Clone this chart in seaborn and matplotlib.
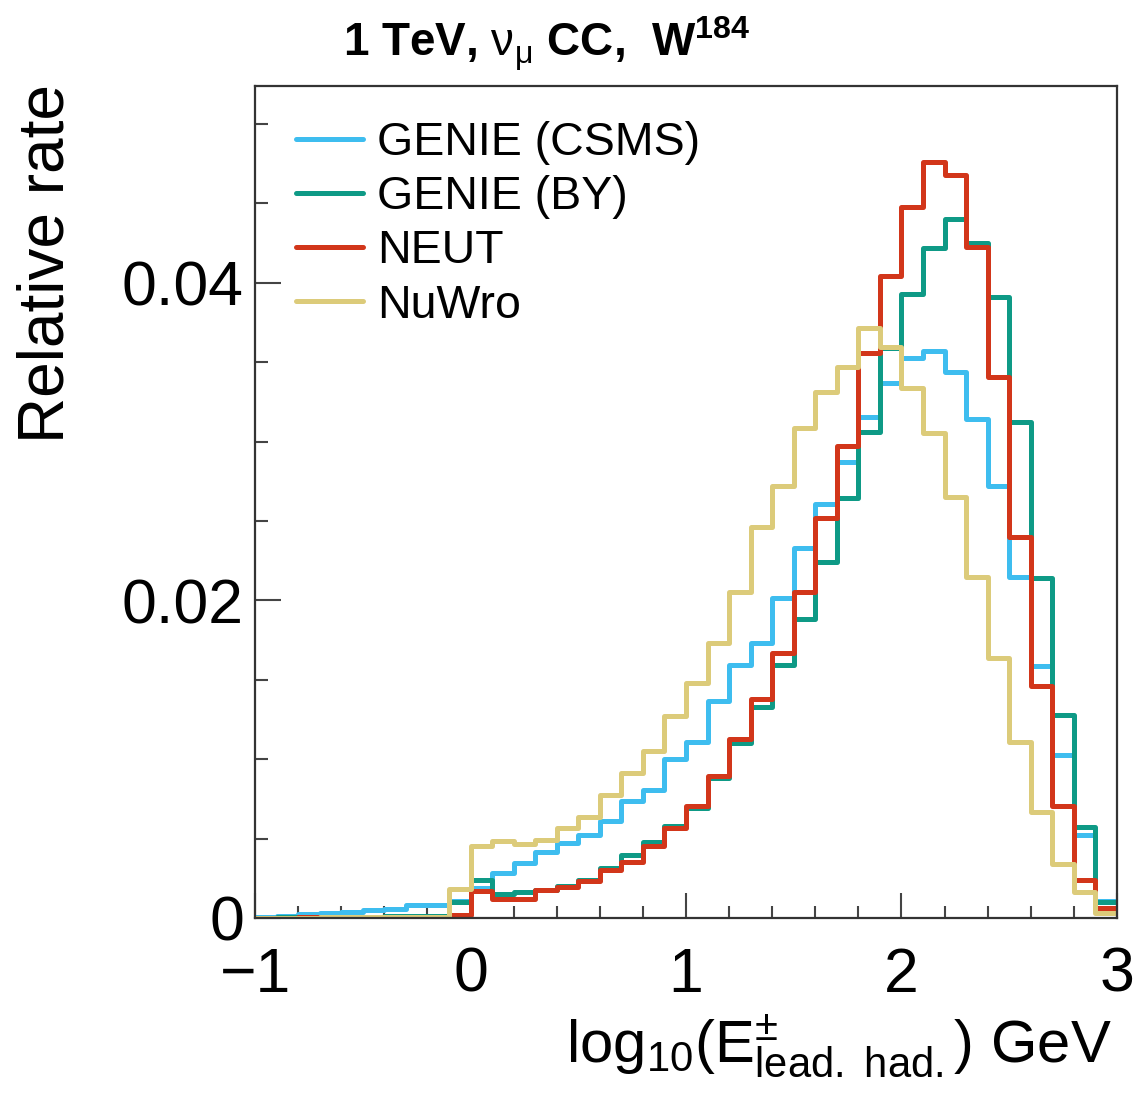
import numpy as np
import pandas as pd
import matplotlib
matplotlib.use("Agg")
import matplotlib.pyplot as plt
import seaborn as sns
from matplotlib.lines import Line2D
from matplotlib.ticker import FixedLocator, MultipleLocator, FixedFormatter

sns.set_theme(style="white")
plt.rcParams['font.family'] = ['Liberation Sans', 'DejaVu Sans']
plt.rcParams['mathtext.fontset'] = 'custom'
plt.rcParams['mathtext.rm'] = 'Liberation Sans'
plt.rcParams['mathtext.it'] = 'Liberation Sans:italic'
plt.rcParams['mathtext.bf'] = 'Liberation Sans:bold'
plt.rcParams['mathtext.sf'] = 'Liberation Sans'
plt.rcParams['text.color'] = 'black'
plt.rcParams['axes.labelcolor'] = 'black'

# ---- data (bins of log10(E) from -1 to 3, width 0.1) ----
bin_edges = np.linspace(-1.0, 3.0, 41)
bin_centers = bin_edges[:-1] + 0.05

models = ["GENIE (CSMS)", "GENIE (BY)", "NEUT", "NuWro"]
colors = ["#3EBDEF", "#0E9A86", "#D2361A", "#DCCB7A"]

genie_csms = [0.00005, 0.00010, 0.00022, 0.00032, 0.00036, 0.00050, 0.00057, 0.00080, 0.00082, 0.00110,
              0.00189, 0.00283, 0.00346, 0.00413, 0.00472, 0.00524, 0.00608, 0.00734, 0.00807, 0.01000,
              0.01108, 0.01368, 0.01594, 0.01735, 0.02014, 0.02332, 0.02607, 0.02874, 0.03157, 0.03371,
              0.03530, 0.03570, 0.03440, 0.03140, 0.02720, 0.02150, 0.01590, 0.01028, 0.00524, 0.00105]

genie_by = [0.00002, 0.00003, 0.00004, 0.00005, 0.00006, 0.00008, 0.00010, 0.00012, 0.00015, 0.00098,
            0.00241, 0.00153, 0.00161, 0.00178, 0.00199, 0.00241, 0.00315, 0.00398, 0.00476, 0.00581,
            0.00692, 0.00881, 0.01105, 0.01328, 0.01594, 0.01886, 0.02244, 0.02647, 0.03060, 0.03587,
            0.03933, 0.04220, 0.04405, 0.04254, 0.03912, 0.03122, 0.02140, 0.01280, 0.00570, 0.00100]

neut = [0.00002, 0.00002, 0.00003, 0.00003, 0.00004, 0.00004, 0.00005, 0.00006, 0.00008, 0.00020,
        0.00168, 0.00117, 0.00117, 0.00174, 0.00193, 0.00231, 0.00300, 0.00353, 0.00451, 0.00566,
        0.00707, 0.00896, 0.01126, 0.01378, 0.01668, 0.02054, 0.02521, 0.02972, 0.03556, 0.04042,
        0.04479, 0.04762, 0.04678, 0.04223, 0.03409, 0.02400, 0.01462, 0.00703, 0.00241, 0.00063]

nuwro = [0.00002, 0.00002, 0.00002, 0.00003, 0.00003, 0.00004, 0.00005, 0.00006, 0.00008, 0.00180,
         0.00451, 0.00482, 0.00465, 0.00493, 0.00566, 0.00636, 0.00772, 0.00916, 0.01053, 0.01275,
         0.01483, 0.01730, 0.02056, 0.02460, 0.02720, 0.03088, 0.03314, 0.03471, 0.03717, 0.03597,
         0.03335, 0.03056, 0.02653, 0.02150, 0.01636, 0.01110, 0.00665, 0.00340, 0.00164, 0.00030]

series = [genie_csms, genie_by, neut, nuwro]

y_ticks = [0.0, 0.02, 0.04]
y_ticklabels = ["0", "0.02", "0.04"]
x_ticks = [-1, 0, 1, 2, 3]
x_ticklabels = ["\u22121", "0", "1", "2", "3"]

# ---- figure ----
fig = plt.figure(figsize=(11.37, 11.04), dpi=100)
ax = fig.add_axes([0.2243, 0.1685, 0.7581, 0.7536])

lw = 3.6
for name, vals, col in zip(models, series, colors):
    df = pd.DataFrame({"x": bin_centers, "w": vals})
    sns.histplot(data=df, x="x", weights="w", bins=bin_edges.tolist(), element="step",
                 fill=False, color=col, linewidth=lw, ax=ax)

ax.set_xlim(-1, 3)
ax.set_ylim(0, 0.0524)
ax.set_xlabel("")
ax.set_ylabel("")

ax.xaxis.set_major_locator(FixedLocator(x_ticks))
ax.xaxis.set_major_formatter(FixedFormatter(x_ticklabels))
ax.xaxis.set_minor_locator(MultipleLocator(0.2))
ax.yaxis.set_major_locator(FixedLocator(y_ticks))
ax.yaxis.set_major_formatter(FixedFormatter(y_ticklabels))
ax.yaxis.set_minor_locator(MultipleLocator(0.005))

tick_col = "#444444"
ax.tick_params(which="both", direction="in", top=False, right=False,
               bottom=True, left=True, color=tick_col, width=1.5, labelcolor="black")
ax.tick_params(axis="x", which="major", length=18, pad=20, labelsize=45)
ax.tick_params(axis="x", which="minor", length=9)
ax.tick_params(axis="y", which="major", length=19, pad=8, labelsize=45)
ax.tick_params(axis="y", which="minor", length=9)

for sp in ax.spines.values():
    sp.set_visible(True)
    sp.set_color("#333333")
    sp.set_linewidth(1.6)

handles = [Line2D([], [], color=c, linewidth=lw) for c in colors]
leg = ax.legend(handles, models, loc="upper left", bbox_to_anchor=(0.048, 0.958),
                frameon=False, fontsize=33.5, handlelength=1.43, handletextpad=0.3,
                labelspacing=0.22, borderpad=0, borderaxespad=0)
for t in leg.get_texts():
    t.set_color("black")

fig.text(343 / 1137, 1 - 58 / 1104,
         r"1 TeV, $\mathrm{\nu}_{\mathrm{\mu}}$ CC,  W$^{\mathbf{184}}$",
         fontsize=33, fontweight="bold", ha="left", va="baseline", color="black")

fig.text(1112 / 1137, 1 - 1062 / 1104,
         r"$\mathrm{log}_{10}(\mathrm{E}^{\pm}_{\mathrm{lead.\ had.}})$ GeV",
         fontsize=43, ha="right", va="baseline", color="black")

fig.text(47 / 1137, 1 - 84 / 1104, "Relative rate", rotation=90,
         fontsize=46, ha="center", va="top", color="black")

fig.savefig("out.png", dpi=100)
